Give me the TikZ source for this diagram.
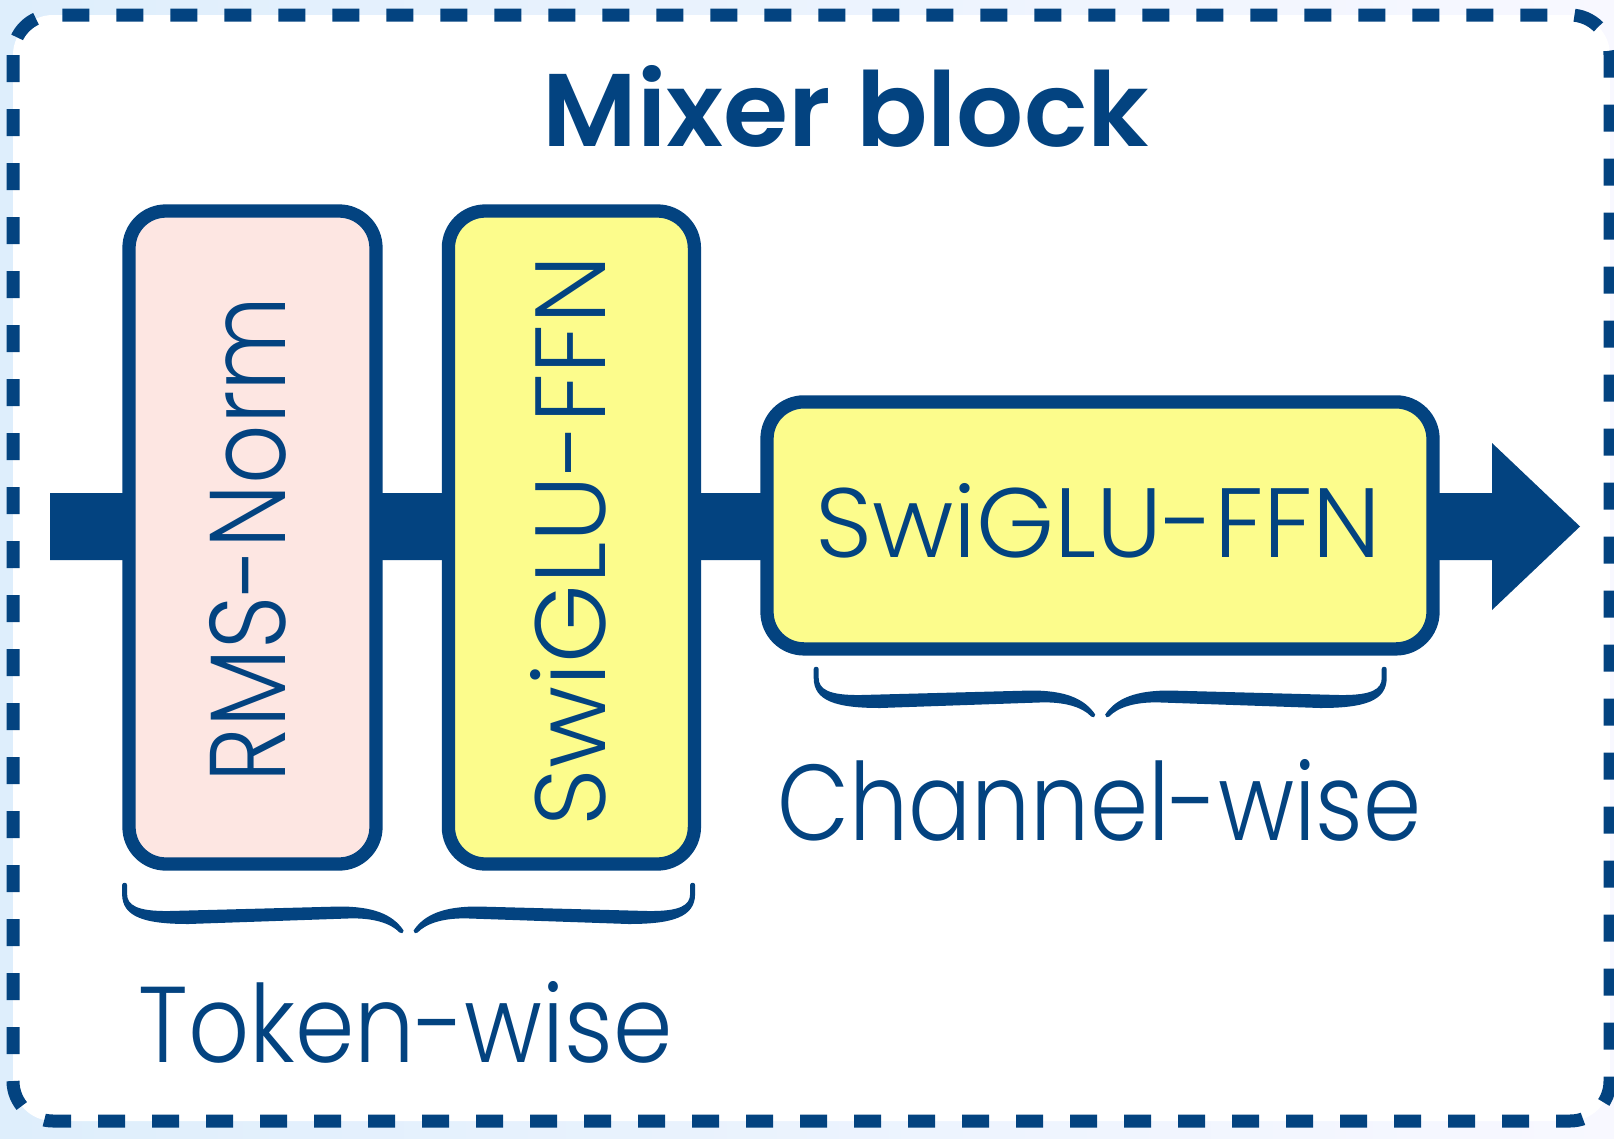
\documentclass[tikz,border=0pt]{standalone}
\usepackage{graphicx}
\usepackage{fontspec}
\setmainfont{Poppins}[UprightFont=* Light, BoldFont=* SemiBold]
\definecolor{navy}{RGB}{3,67,128}
\definecolor{pinkf}{RGB}{253,230,226}
\definecolor{yellowf}{RGB}{252,252,140}
\definecolor{bgl}{RGB}{222,238,252}
\definecolor{bgr}{RGB}{248,248,255}
\tikzset{
  blockbox/.style={draw=navy, line width=13.3pt, rounded corners=37pt, inner sep=0pt},
  txt/.style={text=navy, inner sep=0pt, outer sep=0pt, anchor=base west},
  outerborder/.style={draw=navy, fill=white, line width=13pt, dash pattern=on 27pt off 27pt, rounded corners=40pt},
  ubrace/.pic={
    \fill[navy] (-286.5,0) -- (-286.5,9) .. controls (-286.5,32) and (-264,39) .. (-220,39)
      -- (-61,33.5) .. controls (-36,32.5) and (-18,38) .. (-9,47.5)
      .. controls (-7.5,49.5) and (-4.5,48) .. (-5,45.5)
      .. controls (-16,29) and (-36,21.5) .. (-69,21.5)
      -- (-239,26) .. controls (-272,26.5) and (-281.5,20) .. (-281.5,9)
      -- (-281.5,0) .. controls (-281.5,-3) and (-286.5,-3) .. cycle;
    \fill[navy, xscale=-1] (-286.5,0) -- (-286.5,9) .. controls (-286.5,32) and (-264,39) .. (-220,39)
      -- (-61,33.5) .. controls (-36,32.5) and (-18,38) .. (-9,47.5)
      .. controls (-7.5,49.5) and (-4.5,48) .. (-5,45.5)
      .. controls (-16,29) and (-36,21.5) .. (-69,21.5)
      -- (-239,26) .. controls (-272,26.5) and (-281.5,20) .. (-281.5,9)
      -- (-281.5,0) .. controls (-281.5,-3) and (-286.5,-3) .. cycle;
  }
}
\begin{document}
\begin{tikzpicture}[x=1pt, y=-1pt]
\useasboundingbox (0,0) rectangle (1614,1138);
\shade[left color=bgl, right color=bgr] (0,0) rectangle (1614,1138);
\draw[outerborder] (13,15) rectangle (1610,1121);

% main arrow
\coordinate (src) at (50,526.5);
\coordinate (dst) at (1580,526.5);
\fill[navy] (src) ++(0,-33.5) -- ++(1442,0) -- ++(0,-50) -- (dst) -- ++(-88,83.5) -- ++(0,-50) -- ++(-1442,0) -- cycle;

% blocks
\node[blockbox, fill=pinkf, minimum width=247pt, minimum height=653pt] (rms) at (252.5,537.5) {};
\node[blockbox, fill=yellowf, minimum width=246pt, minimum height=653pt] (swv) at (571.4,537.5) {};
\node[blockbox, fill=yellowf, minimum width=666pt, minimum height=247pt] (swh) at (1100,525.4) {};

% texts
\node[txt] (title) at (542.4,146.7) {\resizebox{606pt}{81pt}{\bfseries Mixer block}};
\node[txt, rotate=90] (rmst) at (285,782.3) {\resizebox{486pt}{76pt}{RMS-Norm}};
\node[txt, rotate=90] (swvt) at (605,826.5) {\resizebox{571pt}{75pt}{SwiGLU-FFN}};
\node[txt] (swht) at (815,557.7) {\resizebox{566pt}{74pt}{SwiGLU-FFN}};
\node[txt] (chan) at (777.3,840) {\resizebox{644pt}{81pt}{Channel-wise}};
\node[txt] (tok) at (138.5,1062.7) {\resizebox{534pt}{81pt}{Token-wise}};

% braces
\pic at (408.6,885) {ubrace};
\pic at (1100.2,669) {ubrace};
\end{tikzpicture}
\end{document}
